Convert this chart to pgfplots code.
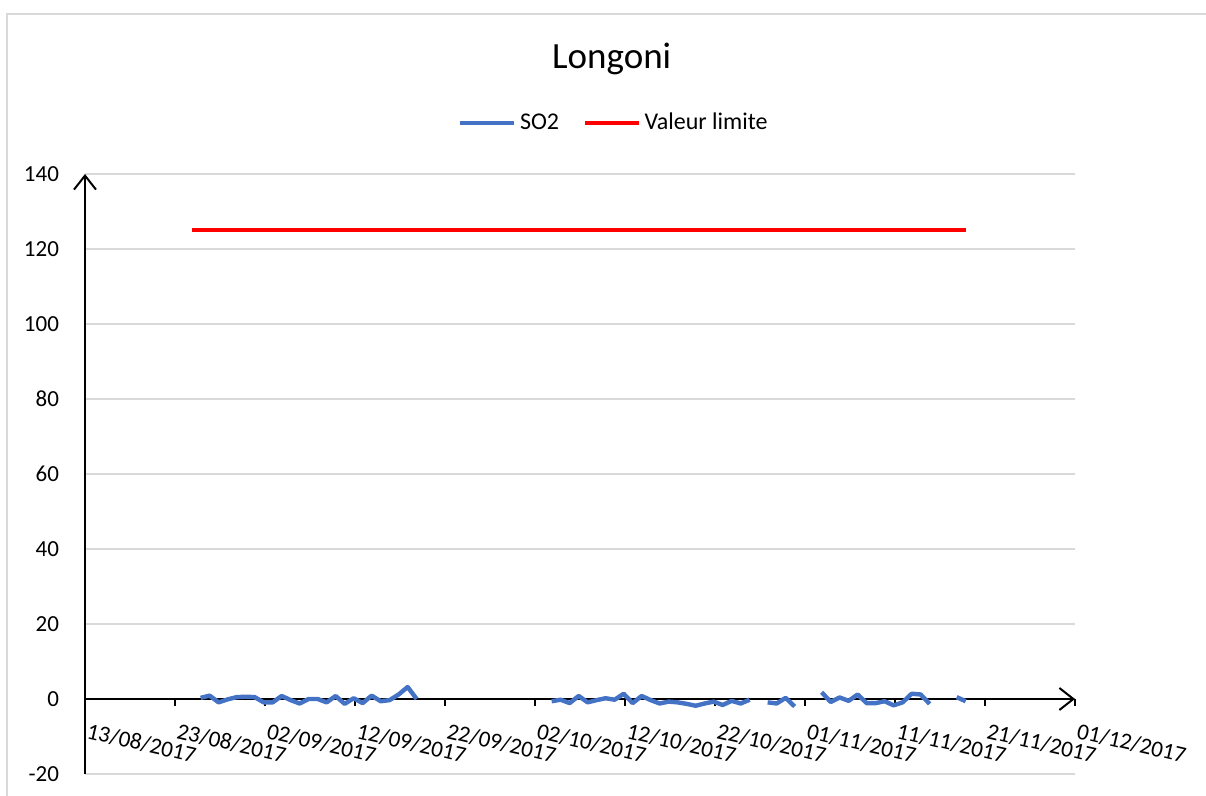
\documentclass[border=0pt]{standalone}
\usepackage{pgfplots}
\pgfplotsset{compat=1.18}
\usepackage{fontspec}
\setmainfont{Carlito}
\usetikzlibrary{arrows.meta}
\definecolor{so2blue}{HTML}{4472C4}
\definecolor{limred}{HTML}{FF0000}
\definecolor{gridgray}{HTML}{D9D9D9}

% day 0 = 13/08/2017
\pgfplotstableread{
day val
12.85 0.3
13.85 0.9
14.85 -0.9
15.85 -0.1
16.85 0.5
17.85 0.6
18.85 0.5
19.85 -0.9
20.85 -0.9
21.85 0.8
22.85 -0.3
23.85 -1.2
24.85 0.0
25.85 0.0
26.85 -0.9
27.85 0.8
28.85 -1.3
29.85 0.2
30.85 -1.1
31.85 0.9
32.85 -0.6
33.85 -0.3
34.85 1.2
35.85 3.2
36.85 0.0
37.85 nan
51.85 -0.6
52.85 -0.2
53.85 -1.1
54.85 0.8
55.85 -0.9
56.85 -0.3
57.85 0.2
58.85 -0.2
59.85 1.4
60.85 -1.1
61.85 0.8
62.85 -0.3
63.85 -1.2
64.85 -0.7
65.85 -0.9
66.85 -1.3
67.85 -1.8
68.85 -1.2
69.85 -0.7
70.85 -1.6
71.85 -0.5
72.85 -1.2
73.85 -0.2
74.85 nan
75.85 -0.9
76.85 -1.2
77.85 0.3
78.85 -2.0
79.85 nan
80.85 nan
81.85 1.8
82.85 -0.8
83.85 0.4
84.85 -0.5
85.85 1.2
86.85 -1.1
87.85 -1.1
88.85 -0.6
89.85 -1.7
90.85 -0.9
91.85 1.4
92.85 1.2
93.85 -1.3
94.85 nan
95.85 nan
96.85 0.5
97.85 -0.6
}\sotwo

\begin{document}
\begin{tikzpicture}
\useasboundingbox (0,0) rectangle (603pt,398pt);
\draw[gridgray, line width=0.9pt] (3.5pt,-20pt) rectangle (640pt,391pt);
\begin{axis}[
    at={(42.5pt,11pt)}, anchor=south west,
    scale only axis, width=495pt, height=300pt,
    xmin=0, xmax=110, ymin=-20, ymax=140,
    axis x line=middle, axis y line=left,
    hide obscured x ticks=false,
    axis line style={black, line width=1pt, -{Straight Barb[length=7pt,width=11pt]}},
    xtick={0,10,...,110},
    xticklabels={13/08/2017,23/08/2017,02/09/2017,12/09/2017,22/09/2017,02/10/2017,12/10/2017,22/10/2017,01/11/2017,11/11/2017,21/11/2017,01/12/2017},
    ytick={-20,0,...,140},
    tick align=outside, major tick length=3.5pt,
    x tick style={black, line width=1pt},
    y tick style={draw=none},
    ymajorgrids, major grid style={gridgray, line width=0.75pt},
    /pgf/number format/assume math mode=true,
    tick label style={font=\fontsize{11.5}{14}\selectfont},
    xticklabel style={rotate=-13, anchor=north west, xshift=0.5pt, yshift=-4pt},
    yticklabel style={xshift=-6pt},
    title={Longoni},
    title style={at={(0.532,1.171)}, anchor=center, font=\fontsize{18.5}{22}\selectfont},
    legend style={at={(0.535,1.085)}, anchor=center, draw=none, legend columns=2,
        font=\fontsize{12}{14}\selectfont,
        /tikz/every even column/.append style={column sep=10pt}},
    legend image code/.code={\draw[#1] (0pt,0pt) -- (27pt,0pt);},
    clip=false,
]
\addplot[color=so2blue, line width=2.2pt, line join=round, unbounded coords=jump] table[x=day, y=val] {\sotwo};
\addlegendentry{SO2}
\addplot[color=limred, line width=1.75pt] coordinates {(11.85,125) (97.85,125)};
\addlegendentry{Valeur limite}
\end{axis}
\end{tikzpicture}
\end{document}
